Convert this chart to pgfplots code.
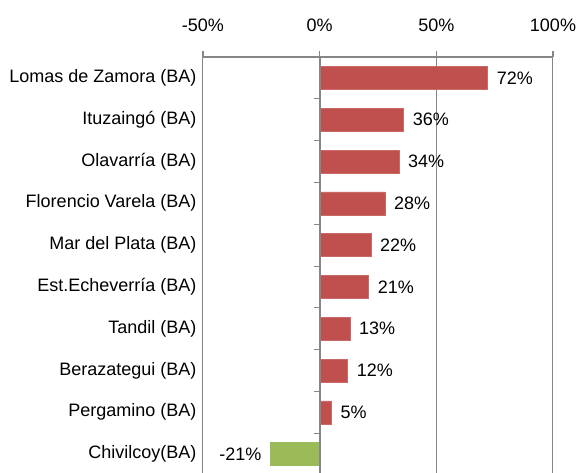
\documentclass[border=0pt]{standalone}
\usepackage{fontspec}
\setmainfont{Liberation Sans}
\usepackage{pgfplots}
\pgfplotsset{compat=1.18}
\definecolor{barred}{HTML}{C0504D}
\definecolor{bargreen}{HTML}{9BBB59}
\definecolor{axgray}{HTML}{868686}
\newcommand\ff{\fontsize{18bp}{21bp}\selectfont}
\begin{document}
\begin{tikzpicture}
\begin{axis}[
  scale only axis, width=350bp, height=418bp,
  xmin=-50, xmax=100, ymin=-0.5, ymax=9.5, y dir=reverse,
  xbar, bar width=23bp, bar shift=0pt,
  axis x line*=top, axis y line*=left,
  y axis line style={draw=none},
  x axis line style={axgray, line width=1.2bp},
  xtick={-50,0,50,100},
  xticklabels={-50\%,0\%,50\%,100\%},
  tick align=outside, major tick length=6bp,
  xtick style={axgray, line width=1.2bp},
  ytick={0,...,9},
  yticklabels={Lomas de Zamora (BA),Ituzaingó (BA),Olavarría (BA),Florencio Varela (BA),Mar del Plata (BA),Est.Echeverría (BA),Tandil (BA),Berazategui (BA),Pergamino (BA),Chivilcoy(BA)},
  ytick style={draw=none},
  tick label style={font=\ff},
  xticklabel style={yshift=16bp},
  yticklabel style={xshift=3bp},
  xmajorgrids, major grid style={axgray, line width=1bp},
  nodes near coords={\pgfmathprintnumber[assume math mode=true]{\pgfplotspointmeta}\%},
  every node near coord/.append style={font=\ff, text=black, inner xsep=9bp},
  clip=false,
]
\addplot[fill=barred, draw=barred!85!white] coordinates {(72,0) (36,1) (34,2) (28,3) (22,4) (21,5) (13,6) (12,7) (5,8)};
\addplot[fill=bargreen, draw=bargreen] coordinates {(-21,9)};
\draw[axgray, line width=1.8bp] (axis cs:0,-0.5) -- (axis cs:0,9.5);
\pgfplotsinvokeforeach{0.5,1.5,2.5,3.5,4.5,5.5,6.5,7.5,8.5}{\draw[axgray,line width=1bp] (axis cs:0,#1) -- ++(-6bp,0pt);}
\coordinate (TL) at (axis cs:-50,-0.5);
\end{axis}
\pgfresetboundingbox
\path ([shift={(-203bp,57bp)}]TL) rectangle ++(578bp,-473bp);
\end{tikzpicture}
\end{document}
